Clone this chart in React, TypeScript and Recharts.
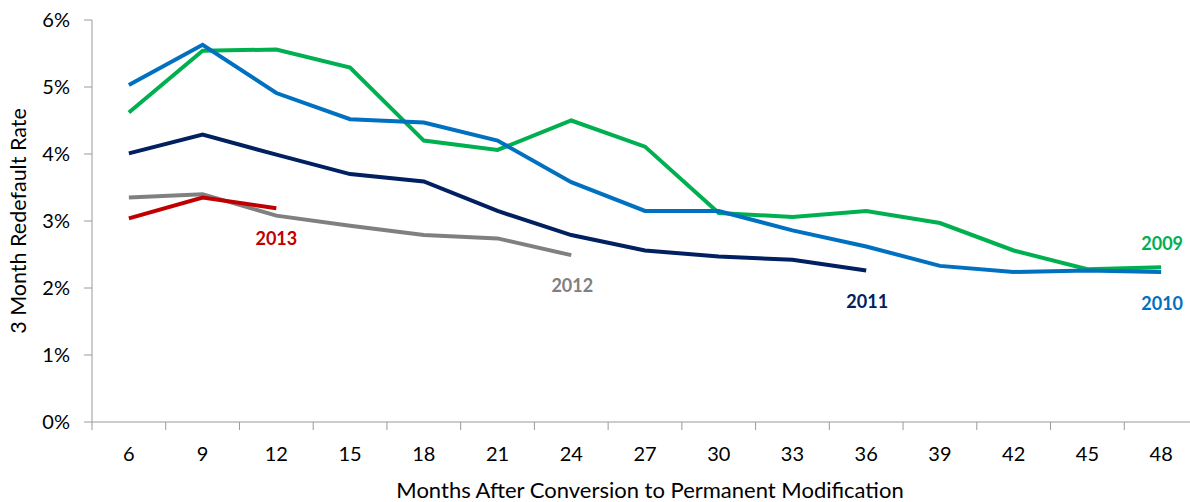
import React from "react";
import { LineChart, Line, XAxis, YAxis } from "recharts";

const months = [6, 9, 12, 15, 18, 21, 24, 27, 30, 33, 36, 39, 42, 45, 48];
const s2009 = [4.62, 5.54, 5.56, 5.29, 4.2, 4.06, 4.5, 4.11, 3.12, 3.06, 3.15, 2.97, 2.56, 2.28, 2.31];
const s2010 = [5.03, 5.63, 4.91, 4.52, 4.47, 4.2, 3.58, 3.15, 3.15, 2.86, 2.62, 2.33, 2.24, 2.26, 2.24];
const s2011 = [4.01, 4.29, 3.99, 3.7, 3.59, 3.15, 2.79, 2.56, 2.47, 2.42, 2.26, null, null, null, null];
const s2012 = [3.35, 3.4, 3.08, 2.93, 2.79, 2.74, 2.49, null, null, null, null, null, null, null, null];
const s2013 = [3.04, 3.35, 3.19, null, null, null, null, null, null, null, null, null, null, null, null];
const yTicks = [0, 1, 2, 3, 4, 5, 6];

const data = months.map((m, i) => ({
  month: m,
  y2009: s2009[i],
  y2010: s2010[i],
  y2011: s2011[i],
  y2012: s2012[i],
  y2013: s2013[i],
}));

const STEP = months[1] - months[0];
const gridTicks = [...months.map((m) => m - STEP / 2), months[months.length - 1] + STEP / 2];
const xDomain = [gridTicks[0], gridTicks[gridTicks.length - 1]];

const lastIndex = (arr: (number | null)[]) => {
  let k = -1;
  arr.forEach((v, i) => {
    if (v !== null) k = i;
  });
  return k;
};

const makeLabel = (text: string, color: string, arr: (number | null)[], dx: number, dy: number) => {
  const li = lastIndex(arr);
  return (props: any) => {
    if (props.index !== li) return null;
    return (
      <text
        x={props.x + dx}
        y={props.y + dy}
        textAnchor="middle"
        fill={color}
        fontSize={18}
        fontWeight={700}
        fontFamily="Lato"
      >
        {text}
      </text>
    );
  };
};

// Tick lines sit on category boundaries; the label is drawn at the middle of each band.
const BandTick = (props: any) => {
  const { x, y, payload, index, width, visibleTicksCount } = props;
  if (index >= visibleTicksCount - 1) return null;
  const half = width / (2 * (visibleTicksCount - 1));
  return (
    <text x={x + half} y={y} dy="0.71em" textAnchor="middle" fill="#000" fontSize={20} fontFamily="Lato">
      {payload.value + STEP / 2}
    </text>
  );
};

const C2009 = "#00B050";
const C2010 = "#0070C0";
const C2011 = "#002060";
const C2012 = "#808080";
const C2013 = "#C00000";

export default function App() {
  return (
    <div
      style={{
        position: "fixed",
        top: 0,
        left: 0,
        width: 1190,
        height: 502,
        overflow: "hidden",
        background: "#fff",
        fontFamily: "Lato",
      }}
    >
      <LineChart width={1200} height={502} data={data} margin={{ top: 20, right: 2, left: 0, bottom: 0 }}>
        <XAxis
          dataKey="month"
          type="number"
          domain={xDomain}
          ticks={gridTicks}
          interval={0}
          tickSize={8}
          tickMargin={17}
          height={80}
          stroke="#9a9a9a"
          tick={<BandTick />}
          allowDataOverflow
          label={{
            value: "Months After Conversion to Permanent Modification",
            position: "insideBottom",
            offset: 4,
            dx: 5,
            style: { fill: "#000", fontSize: 22 },
          }}
        />
        <YAxis
          domain={[0, 6]}
          ticks={yTicks}
          interval={0}
          tickFormatter={(v: number) => `${v}%`}
          width={92}
          tickSize={8}
          tickMargin={14}
          stroke="#9a9a9a"
          tick={{ fill: "#000", fontSize: 20 }}
          label={{
            value: "3 Month Redefault Rate",
            angle: -90,
            position: "insideLeft",
            offset: 18,
            style: { textAnchor: "middle", fill: "#000", fontSize: 21.5 },
          }}
        />
        <Line dataKey="y2009" stroke={C2009} strokeWidth={4} dot={false} activeDot={false} isAnimationActive={false} label={makeLabel("2009", C2009, s2009, 1, -17)} />
        <Line dataKey="y2010" stroke={C2010} strokeWidth={4} dot={false} activeDot={false} isAnimationActive={false} label={makeLabel("2010", C2010, s2010, 1, 38)} />
        <Line dataKey="y2011" stroke={C2011} strokeWidth={4} dot={false} activeDot={false} isAnimationActive={false} label={makeLabel("2011", C2011, s2011, 1, 37)} />
        <Line dataKey="y2012" stroke={C2012} strokeWidth={4} dot={false} activeDot={false} isAnimationActive={false} label={makeLabel("2012", C2012, s2012, 1, 37)} />
        <Line dataKey="y2013" stroke={C2013} strokeWidth={4} dot={false} activeDot={false} isAnimationActive={false} label={makeLabel("2013", C2013, s2013, 0, 37)} />
      </LineChart>
    </div>
  );
}
